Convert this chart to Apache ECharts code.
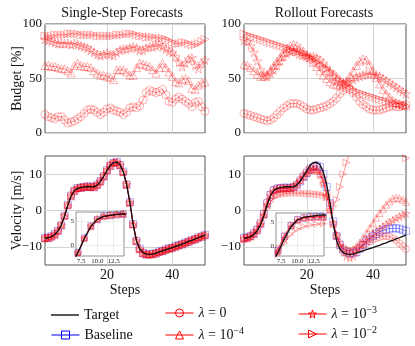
<!DOCTYPE html>
<html>
<head>
<meta charset="utf-8">
<script src="https://cdn.jsdelivr.net/npm/echarts@6/dist/echarts.min.js"></script>
<style>
  html, body { margin: 0; padding: 0; background: #fff; }
  #chart { width: 415px; height: 346px; }
</style>
</head>
<body>
<div id="chart"></div>
<script>
// x positions (simulation steps)
const steps = [1,2,3,4,5,6,7,8,9,10,11,12,13,14,15,16,17,18,19,20,21,22,23,24,25,
  26,27,28,29,30,31,32,33,34,35,36,37,38,39,40,41,42,43,44,45,46,47,48,49,50];

// budget [%], single-step forecasts
const ssLam0 = [17,15,14,13,15,15,12,9,10,11,13,15,18,21,22,21,19,17,19,22,23,21,20,19,17,19,23,24,23,25,30,37,39,38,37,38,40,35,29,28,31,33,31,29,27,24,28,29,24,20];
const ssLam4 = [62,62,61,61,60,59,59,57,55,62,64,62,61,61,60,57,55,53,53,52,51,49,58,58,58,56,53,53,60,64,63,62,61,58,55,60,64,60,56,52,47,46,49,50,48,41,40,44,46,47];
const ssLam3 = [86,85,84,83,82,82,82,82,81,82,81,80,79,78,76,74,72,71,72,73,72,71,74,76,77,77,78,79,78,76,76,78,79,79,80,81,79,77,75,74,70,65,61,64,68,69,62,59,64,67];
const ssLam2 = [89,89,89,90,90,90,90,91,91,91,91,90,90,90,90,90,89,89,89,89,89,89,90,90,90,91,91,91,90,89,89,88,88,88,87,87,87,86,85,83,82,82,83,83,82,81,81,82,84,86];

// budget [%], rollout forecasts
const roLam0 = [18,17,16,15,14,13,12,11,12,14,17,20,23,25,27,27,27,26,24,22,21,21,22,23,24,25,27,29,32,36,39,41,40,37,33,29,26,24,22,21,21,21,22,23,24,25,24,24,25,26];
const roLam4 = [63,62,60,57,54,52,52,54,58,62,66,70,74,78,80,81,80,78,75,72,69,65,61,57,53,50,47,45,44,44,45,48,52,57,62,66,68,67,63,57,51,45,40,36,33,30,28,27,26,25];
const roLam3 = [85,84,80,74,66,58,53,52,55,58,62,66,70,73,75,76,75,74,72,71,70,70,69,67,64,60,56,52,49,47,46,46,47,49,51,52,53,54,54,54,53,52,50,48,46,44,42,40,38,36];
const roLam2 = [91,90,89,88,87,86,85,84,83,82,81,80,79,78,77,75,74,72,71,70,69,67,65,63,61,59,57,55,52,49,46,44,42,40,38,37,36,35,34,33,32,31,30,29,28,28,27,27,26,25];

// velocity [m/s]
const velTarget = [-7.6,-7.5,-7.2,-6.6,-5.6,-4.0,-1.5,1.5,4.0,5.5,6.1,6.3,6.5,6.6,6.5,6.5,7.0,8.0,9.5,11.0,12.4,13.2,13.3,12.6,10.6,7.2,2.2,-3.8,-8.3,-10.6,-11.6,-12.0,-12.1,-12.0,-11.7,-11.4,-11.1,-10.8,-10.5,-10.2,-9.9,-9.6,-9.2,-8.9,-8.5,-8.2,-7.8,-7.5,-7.1,-6.8];

const ssVelBase = [-7.5,-7.6,-7.1,-6.5,-5.5,-4.1,-1.4,1.6,4.1,5.4,6.2,6.3,6.4,6.6,6.6,6.4,7.1,8.1,9.4,11.1,12.3,13.1,13.4,12.5,10.7,7.1,2.3,-3.7,-8.4,-10.5,-11.7,-12.1,-12.0,-11.9,-11.8,-11.3,-11.2,-10.7,-10.4,-10.3,-9.8,-9.5,-9.3,-8.8,-8.6,-8.1,-7.9,-7.4,-7.2,-6.7];
const ssVelLam0 = [-7.7,-7.4,-7.3,-6.5,-5.7,-3.9,-1.6,1.4,4.1,5.6,6.0,6.4,6.4,6.7,6.4,6.6,6.9,8.1,9.6,10.9,12.5,13.1,13.2,12.7,10.5,7.3,2.1,-3.9,-8.2,-10.7,-11.5,-12.1,-12.2,-11.9,-11.6,-11.5,-11.0,-10.9,-10.4,-10.3,-9.8,-9.7,-9.1,-9.0,-8.4,-8.3,-7.7,-7.6,-7.0,-6.9];
const ssVelLam4 = [-7.5,-7.6,-7.1,-6.7,-5.5,-4.1,-1.4,1.6,3.9,5.5,6.2,6.2,6.6,6.5,6.6,6.4,7.1,7.9,9.4,11.1,12.3,13.3,13.2,12.5,10.7,7.1,2.3,-3.7,-8.4,-10.5,-11.7,-11.9,-12.0,-12.1,-11.8,-11.3,-11.2,-10.7,-10.6,-10.1,-10.0,-9.5,-9.3,-8.8,-8.6,-8.1,-7.9,-7.4,-7.2,-6.7];
const ssVelLam3 = [-7.6,-7.5,-7.2,-6.6,-5.6,-4.0,-1.5,1.5,4.0,5.4,6.1,6.3,6.5,6.6,6.5,6.5,7.0,8.0,9.5,11.0,12.4,13.2,13.3,12.6,10.6,7.2,2.2,-3.8,-8.3,-10.6,-11.6,-12.0,-12.1,-12.0,-11.7,-11.4,-11.1,-10.8,-10.5,-10.2,-9.9,-9.6,-9.2,-8.9,-8.5,-8.2,-7.8,-7.5,-7.1,-6.8];
const ssVelLam2 = [-7.8,-7.6,-7.3,-6.8,-5.8,-4.2,-1.7,1.3,3.8,5.3,6.0,6.2,6.4,6.5,6.4,6.4,6.8,7.8,9.2,10.8,12.2,13.0,13.1,12.4,10.4,7.0,2.0,-4.0,-8.5,-10.8,-11.8,-12.2,-12.3,-12.2,-11.9,-11.6,-11.3,-11.0,-10.7,-10.4,-10.1,-9.8,-9.4,-9.1,-8.7,-8.4,-8.0,-7.7,-7.3,-7.0];

const roVelBase = [-7.5,-7.4,-7.0,-6.3,-5.3,-3.6,-1.0,2.0,4.3,5.6,6.0,6.2,6.3,6.3,6.2,6.4,7.0,8.0,9.2,10.3,11.3,12.0,12.4,12.0,10.0,6.5,2.0,-3.0,-7.0,-9.5,-10.8,-11.5,-11.8,-11.8,-11.4,-10.5,-9.5,-8.5,-7.7,-7.0,-6.4,-5.9,-5.5,-5.2,-5.0,-4.9,-4.9,-5.0,-5.3,-5.6];
const roVelLam0 = [-7.6,-7.4,-7.0,-6.2,-5.0,-3.2,-0.6,2.3,4.5,5.7,6.1,6.2,6.2,6.1,6.1,6.5,7.3,8.5,9.8,10.9,11.7,12.1,12.0,11.0,8.6,4.8,0.4,-3.8,-7.0,-9.0,-10.3,-11.0,-11.3,-11.2,-10.8,-10.2,-9.6,-9.0,-8.5,-8.0,-7.6,-7.3,-7.1,-7.0,-7.2,-7.6,-8.2,-9.0,-9.8,-10.6];
const roVelLam4 = [-7.7,-7.5,-7.1,-6.4,-5.3,-3.5,-0.9,2.0,4.3,5.5,5.9,6.0,6.1,6.1,6.2,6.6,7.4,8.4,9.5,10.5,11.2,11.5,11.3,10.2,7.9,4.4,0.3,-3.6,-6.8,-9.0,-10.4,-11.0,-11.0,-10.6,-9.8,-8.8,-7.6,-6.2,-4.8,-3.4,-2.0,-0.7,0.5,1.6,2.5,3.2,3.5,3.4,3.0,2.4];
const roVelLam3 = [-7.8,-7.6,-7.2,-6.5,-5.5,-3.8,-1.3,1.6,4.0,5.3,5.8,6.0,6.1,6.2,6.3,6.6,7.3,8.3,9.3,10.3,11.0,11.3,11.0,9.8,7.4,4.0,0.2,-3.4,-6.8,-9.6,-11.5,-12.6,-13.0,-12.6,-11.6,-10.4,-9.2,-8.3,-7.4,-6.6,-5.8,-5.1,-4.4,-3.8,-3.2,-2.7,-2.2,-1.7,-1.2,-0.8];
const roVelLam2 = [-7.9,-7.7,-7.3,-6.6,-5.6,-4.0,-1.8,0.6,2.4,3.5,4.1,4.4,4.6,4.7,4.8,4.8,4.8,4.8,4.7,4.7,4.6,4.6,4.5,4.4,4.2,3.6,2.4,1.2,3.0,6.5,10.0,13.2,16.0,18.5,20.5,22.0,23.0,23.6,23.8,23.6,23.0,22.2,21.2,20.2,19.2,18.2,17.2,16.2,15.2,14.4];

const serif = "'Liberation Serif', 'DejaVu Serif', serif";
const RED = '#ff0000';
const BLUE = '#0000ff';
const starPath = 'path://M50,0 L61,35 L98,35 L68,57 L79,91 L50,70 L21,91 L32,57 L2,35 L39,35 Z';
const rightTri = 'path://M0,0 L10,5 L0,10 Z';
const barIcon = 'path://M0,0 L28,0 L28,1.4 L0,1.4 Z';

const chart = echarts.init(document.getElementById('chart'), null, { renderer: 'canvas' });

function pairs(arr) {
  return steps.map((s, i) => [s, arr[i]]);
}

function markerSeries(name, symbol, arr, axis, color, size, z) {
  return {
    name: name,
    type: 'line',
    xAxisIndex: axis,
    yAxisIndex: axis,
    data: pairs(arr),
    symbol: symbol,
    symbolSize: size,
    showAllSymbol: true,
    z: z,
    lineStyle: { color: color, width: 0.7, opacity: 0.6 },
    itemStyle: { color: 'rgba(0,0,0,0)', borderColor: color, borderWidth: 0.8, opacity: 0.38 },
    emphasis: { disabled: true }
  };
}

function targetSeries(axis, z) {
  return {
    name: 'Target',
    type: 'line',
    xAxisIndex: axis,
    yAxisIndex: axis,
    data: pairs(velTarget),
    symbol: 'none',
    z: z,
    lineStyle: { color: '#111', width: 1.3 },
    itemStyle: { color: '#111' },
    emphasis: { disabled: true }
  };
}

function velGroup(axis, base, l0, l4, l3, l2, size, z) {
  return [
    markerSeries('Baseline', 'rect', base, axis, BLUE, size, z),
    markerSeries('λ = 0', 'circle', l0, axis, RED, size, z),
    markerSeries('λ = 10^−4', 'triangle', l4, axis, RED, size, z),
    markerSeries('λ = 10^−3', starPath, l3, axis, RED, size + 1, z),
    markerSeries('λ = 10^−2', rightTri, l2, axis, RED, size, z),
    targetSeries(axis, z + 1)
  ];
}

function mainX(grid, labels) {
  return {
    type: 'value', gridIndex: grid, min: 1, max: 50,
    axisLine: { show: false },
    axisTick: { show: false, customValues: [20, 40] },
    axisLabel: { show: labels, customValues: [20, 40], fontFamily: serif, fontSize: 14, color: '#111', margin: 3 },
    splitLine: { show: true, lineStyle: { color: '#d4d4d4', width: 1 } },
    name: labels ? 'Steps' : '',
    nameLocation: 'middle',
    nameGap: 17,
    nameTextStyle: { fontFamily: serif, fontSize: 14, color: '#111' }
  };
}

function budgetY(grid, name) {
  return {
    type: 'value', gridIndex: grid, min: 0, max: 100, interval: 50,
    axisLine: { show: false },
    axisTick: { show: false },
    axisLabel: { fontFamily: serif, fontSize: 13, color: '#111', margin: 3 },
    splitLine: { show: true, lineStyle: { color: '#d4d4d4', width: 1 } },
    name: name, nameLocation: 'middle', nameGap: 21, nameMoveOverlap: false,
    nameTextStyle: { fontFamily: serif, fontSize: 14, color: '#111' }
  };
}

function velY(grid, name) {
  return {
    type: 'value', gridIndex: grid, min: -15, max: 15,
    axisLine: { show: false },
    axisTick: { show: false, customValues: [-10, 0, 10] },
    axisLabel: {
      customValues: [-10, 0, 10], fontFamily: serif, fontSize: 13, color: '#111', margin: 3,
      formatter: v => String(v).replace('-', '−')
    },
    splitLine: { show: true, lineStyle: { color: '#d4d4d4', width: 1 } },
    name: name, nameLocation: 'middle', nameGap: 21, nameMoveOverlap: false,
    nameTextStyle: { fontFamily: serif, fontSize: 14, color: '#111' }
  };
}

function insetX(grid) {
  return {
    type: 'value', gridIndex: grid, min: 6.7, max: 14.1, z: 4,
    axisLine: { show: false },
    axisTick: { show: false, customValues: [7.5, 10, 12.5] },
    axisLabel: { customValues: [7.5, 10, 12.5], fontFamily: serif, fontSize: 7, color: '#222', margin: 2,
      formatter: v => v.toFixed(1) },
    splitLine: { show: true, lineStyle: { color: '#e0e0e0', width: 0.6 } }
  };
}

function insetY(grid) {
  return {
    type: 'value', gridIndex: grid, min: -2.2, max: 7, z: 4,
    axisLine: { show: false },
    axisTick: { show: false, customValues: [0, 5] },
    axisLabel: { customValues: [0, 5], fontFamily: serif, fontSize: 7, color: '#222', margin: 2 },
    splitLine: { show: true, lineStyle: { color: '#e0e0e0', width: 0.6 } }
  };
}

const frame = { show: true, borderColor: '#555', borderWidth: 1, backgroundColor: 'transparent' };

const legendText = {
  fontFamily: serif, fontSize: 14, color: '#111',
  rich: {
    i: { fontFamily: serif, fontSize: 14, fontStyle: 'italic', color: '#111' },
    s: { fontFamily: serif, fontSize: 10, color: '#111', padding: [0, 0, 8, 0] }
  }
};

function legendFmt(name) {
  if (name.indexOf('λ = 10^') === 0) return '{i|λ} = 10{s|' + name.slice(7) + '}';
  if (name === 'λ = 0') return '{i|λ} = 0';
  return name;
}

// one legend per entry so each can be placed in the 3x2 block
function legendEntry(left, top, name, color, icon) {
  const item = {
    name: name,
    itemStyle: { color: 'rgba(0,0,0,0)', borderColor: color, borderWidth: 1, opacity: 1 },
    lineStyle: { color: color, width: 1, opacity: 1 }
  };
  if (icon) {
    item.icon = icon;
    item.itemStyle = { color: color, opacity: 1 };
  }
  return {
    data: [item], left: left, top: top,
    itemWidth: 28, itemHeight: 10, itemGap: 5,
    formatter: legendFmt, textStyle: legendText,
    selectedMode: false
  };
}

let option = {
  animation: false,
  backgroundColor: '#fff',
  title: [
    { text: 'Single-Step Forecasts', left: 117, top: 1, textAlign: 'center',
      textStyle: { fontFamily: serif, fontSize: 14, fontWeight: 'normal', color: '#111' } },
    { text: 'Rollout Forecasts', left: 319, top: 1, textAlign: 'center',
      textStyle: { fontFamily: serif, fontSize: 14, fontWeight: 'normal', color: '#111' } }
  ],
  legend: [
    legendEntry(46, 303, 'Target', '#111', barIcon),
    legendEntry(46, 323, 'Baseline', BLUE),
    legendEntry(160, 301, 'λ = 0', RED),
    legendEntry(160, 321, 'λ = 10^−4', RED),
    legendEntry(293, 300, 'λ = 10^−3', RED),
    legendEntry(293, 320, 'λ = 10^−2', RED)
  ],
  grid: [
    Object.assign({ left: 45, top: 24, width: 160, height: 109 }, frame),
    Object.assign({ left: 244, top: 24, width: 162, height: 109 }, frame),
    Object.assign({ left: 45, top: 156, width: 160, height: 109 }, frame),
    Object.assign({ left: 244, top: 156, width: 162, height: 109 }, frame),
    { left: 76, top: 212, width: 48, height: 44, show: true, z: 3, borderColor: '#777', borderWidth: 0.8, backgroundColor: '#fff' },
    { left: 276, top: 213, width: 48, height: 43, show: true, z: 3, borderColor: '#777', borderWidth: 0.8, backgroundColor: '#fff' }
  ],
  xAxis: [mainX(0, false), mainX(1, false), mainX(2, true), mainX(3, true), insetX(4), insetX(5)],
  yAxis: [budgetY(0, 'Budget [%]'), budgetY(1, ''), velY(2, 'Velocity [m/s]'), velY(3, ''), insetY(4), insetY(5)],
  series: [
    markerSeries('λ = 0', 'circle', ssLam0, 0, RED, 8, 2),
    markerSeries('λ = 10^−4', 'triangle', ssLam4, 0, RED, 8, 2),
    markerSeries('λ = 10^−3', starPath, ssLam3, 0, RED, 9, 2),
    markerSeries('λ = 10^−2', rightTri, ssLam2, 0, RED, 8, 2),
    markerSeries('λ = 0', 'circle', roLam0, 1, RED, 8, 2),
    markerSeries('λ = 10^−4', 'triangle', roLam4, 1, RED, 8, 2),
    markerSeries('λ = 10^−3', starPath, roLam3, 1, RED, 9, 2),
    markerSeries('λ = 10^−2', rightTri, roLam2, 1, RED, 8, 2)
  ]
    .concat(velGroup(2, ssVelBase, ssVelLam0, ssVelLam4, ssVelLam3, ssVelLam2, 7, 2))
    .concat(velGroup(3, roVelBase, roVelLam0, roVelLam4, roVelLam3, roVelLam2, 7, 2))
    .concat(velGroup(4, ssVelBase, ssVelLam0, ssVelLam4, ssVelLam3, ssVelLam2, 6, 5))
    .concat(velGroup(5, roVelBase, roVelLam0, roVelLam4, roVelLam3, roVelLam2, 6, 5))
};

chart.setOption(option);
</script>
</body>
</html>
